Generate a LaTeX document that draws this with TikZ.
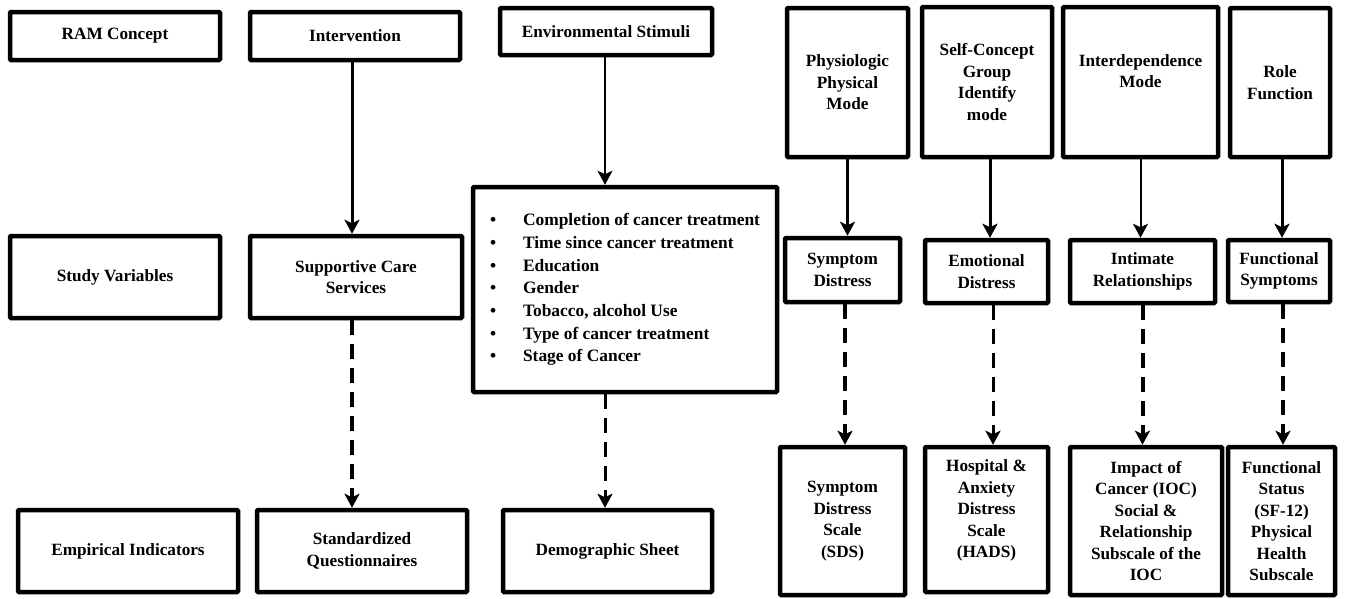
\documentclass[tikz,border=0pt]{standalone}
\usepackage{fontspec}
\setmainfont{Liberation Serif}
\usetikzlibrary{arrows.meta}
\begin{document}
\begin{tikzpicture}[x=1pt,y=-1pt,
  box/.style={draw=black, line width=4.5pt, rounded corners=1pt, fill=white, inner sep=0pt,
    align=center, font=\fontsize{17.2}{21.5}\selectfont\bfseries},
  tip/.tip={Stealth[length=14pt,width=15pt,inset=3.5pt]},
  solidarrow/.style={line width=3pt, -tip},
  thinarrow/.style={line width=2pt, -tip},
  dasharrow/.style={line width=4pt, dash pattern=on 15pt off 9pt, -tip}
]
\useasboundingbox (0,0) rectangle (1355,598);
% top row
\node[box, minimum width=210pt, minimum height=48pt] (ram) at (115,36) {RAM Concept};
\node[box, minimum width=210pt, minimum height=48pt] (inter) at (355,36) {Intervention};
\node[box, minimum width=212pt, minimum height=47pt] (env) at (606,31.5) {Environmental Stimuli};
\node[box, minimum width=121pt, minimum height=149pt] (phys) at (847.5,82.5) {Physiologic\\Physical\\Mode};
\node[box, minimum width=130pt, minimum height=150pt] (self) at (987,82) {Self-Concept\\Group\\Identify\\mode};
\node[box, minimum width=155pt, minimum height=150pt] (interd) at (1140.5,82) {Interdependence\\Mode\\\mbox{}};
\node[box, minimum width=100pt, minimum height=149pt] (role) at (1280,82.5) {Role\\Function};
% middle row
\node[box, minimum width=210pt, minimum height=82pt] (sv) at (115,277) {Study Variables};
\node[box, minimum width=212pt, minimum height=82pt] (sup) at (356,277) {Supportive Care\\Services};
\node[box, minimum width=304pt, minimum height=205pt, align=left,
  font=\fontsize{17.4}{22.7}\selectfont\bfseries] (list) at (625,289.5)
  {\makebox[33pt][l]{\textbullet}Completion of cancer treatment\\
   \makebox[33pt][l]{\textbullet}Time since cancer treatment\\
   \makebox[33pt][l]{\textbullet}Education\\
   \makebox[33pt][l]{\textbullet}Gender\\
   \makebox[33pt][l]{\textbullet}Tobacco, alcohol Use\\
   \makebox[33pt][l]{\textbullet}Type of cancer treatment\\
   \makebox[33pt][l]{\textbullet}Stage of Cancer};
\node[box, minimum width=115pt, minimum height=64pt] (sd) at (842.5,270) {Symptom\\Distress};
\node[box, minimum width=123pt, minimum height=63pt] (ed) at (986.5,271.5) {Emotional\\Distress};
\node[box, minimum width=145pt, minimum height=63pt] (ir) at (1142.5,271.5) {Intimate\\Relationships};
\node[box, minimum width=102pt, minimum height=62pt] (fs) at (1279,271) {Functional\\Symptoms};
% bottom row
\node[box, minimum width=220pt, minimum height=82pt] (ei) at (128,551) {Empirical Indicators};
\node[box, minimum width=210pt, minimum height=82pt] (sq) at (362,551) {Standardized\\Questionnaires};
\node[box, minimum width=209pt, minimum height=82pt] (ds) at (607.5,551) {Demographic Sheet};
\node[box, minimum width=125pt, minimum height=148pt] (sds) at (842.5,521) {Symptom\\Distress\\Scale\\(SDS)};
\node[box, minimum width=123pt, minimum height=145pt] (hads) at (986.5,519.5) {Hospital \&\\Anxiety\\Distress\\Scale\\(HADS)\\\mbox{}};
\node[box, minimum width=152pt, minimum height=148pt] (ioc) at (1146,521) {Impact of\\Cancer (IOC)\\Social \&\\Relationship\\Subscale of the\\IOC};
\node[box, minimum width=107pt, minimum height=148pt] (fstat) at (1281.5,521) {Functional\\Status\\(SF-12)\\Physical\\Health\\Subscale};
% solid arrows
\draw[solidarrow] ([xshift=-3pt]inter.south) -- ([xshift=-3pt]inter.south |- sup.north);
\draw[thinarrow] ([xshift=-1pt]env.south) -- ([xshift=-1pt]env.south |- list.north);
\draw[solidarrow] (phys.south) -- (phys.south |- sd.north);
\draw[solidarrow] ([xshift=3pt]self.south) -- ([xshift=3pt]self.south |- ed.north);
\draw[thinarrow] (interd.south) -- (interd.south |- ir.north);
\draw[solidarrow] ([xshift=2pt]role.south) -- ([xshift=2pt]role.south |- fs.north);
% dashed arrows
\draw[dasharrow] ([xshift=-4pt]sup.south) -- ([xshift=-4pt]sup.south |- sq.north);
\draw[dasharrow, line width=3pt] ([xshift=-20pt]list.south) -- ([xshift=-20pt]list.south |- ds.north);
\draw[dasharrow] ([xshift=2.5pt]sd.south) -- ([xshift=2.5pt]sd.south |- sds.north);
\draw[dasharrow, line width=3pt] ([xshift=6.5pt]ed.south) -- ([xshift=6.5pt]ed.south |- hads.north);
\draw[dasharrow] (ir.south) -- (ir.south |- ioc.north);
\draw[dasharrow] ([xshift=4pt]fs.south) -- ([xshift=4pt]fs.south |- fstat.north);
\end{tikzpicture}
\end{document}
